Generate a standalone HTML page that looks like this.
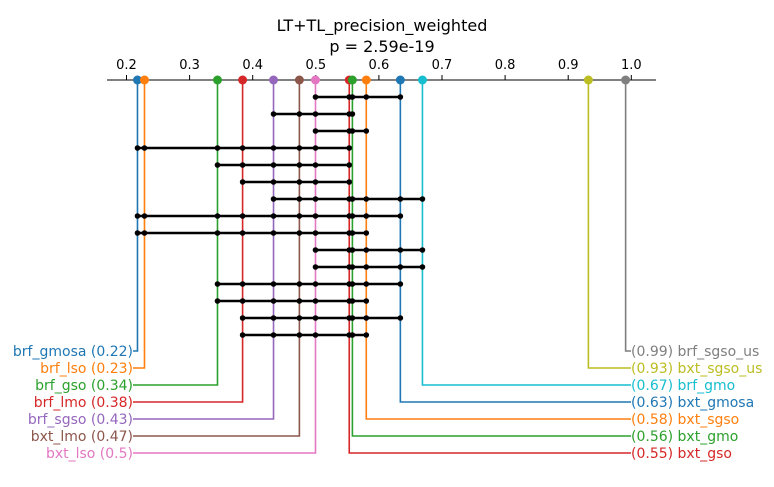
<!DOCTYPE html>
<html><head><meta charset="utf-8"><style>
html,body{margin:0;padding:0;background:#fff;}
svg{display:block;font-family:"DejaVu Sans","Liberation Sans",sans-serif;}
</style></head><body>
<svg id="chart" width="774" height="487" viewBox="0 0 774 487" xmlns="http://www.w3.org/2000/svg">
<text x="382" y="31" text-anchor="middle" font-size="16">LT+TL_precision_weighted</text>
<text x="382" y="52" text-anchor="middle" font-size="16">p = 2.59e-19</text>
<line x1="107" y1="80" x2="656" y2="80" stroke="#000" stroke-width="1"/>
<g id="ticks"></g><g id="methods"></g><g id="cliques"></g><g id="markers"></g>
</svg>
<script>
const methodNames = ["brf_gmosa","brf_lso","brf_gso","brf_lmo","brf_sgso","bxt_lmo","bxt_lso","bxt_gso","bxt_gmo","bxt_sgso","bxt_gmosa","brf_gmo","bxt_sgso_us","brf_sgso_us"];
const methodValues = [0.2174,0.2285,0.3442,0.384,0.433,0.474,0.4995,0.553,0.558,0.580,0.634,0.669,0.932,0.991];
const methodLabels = ["0.22","0.23","0.34","0.38","0.43","0.47","0.5","0.55","0.56","0.58","0.63","0.67","0.93","0.99"];
const methodColors = ["#1f77b4","#ff7f0e","#2ca02c","#d62728","#9467bd","#8c564b","#e377c2","#d62728","#2ca02c","#ff7f0e","#1f77b4","#17becf","#bcbd22","#7f7f7f"];
const tickValues = [0.2,0.3,0.4,0.5,0.6,0.7,0.8,0.9,1.0];
const tickLabels = ["0.2","0.3","0.4","0.5","0.6","0.7","0.8","0.9","1.0"];
const cliqueStart = [6,4,6,0,2,3,4,0,0,6,6,2,2,3,3];
const cliqueEnd = [10,8,9,7,7,7,11,10,9,11,11,10,9,10,9];

const NS="http://www.w3.org/2000/svg";
const X = v => 126.5 + (v-0.2)*631;
const axisY = 80;
function mk(tag, attrs, parent){const e=document.createElementNS(NS,tag);for(const k in attrs)e.setAttribute(k,attrs[k]);parent.appendChild(e);return e;}

const tg=document.getElementById('ticks');
tickValues.forEach((v,i)=>{
  const l=mk('line',{x1:X(v),x2:X(v),y1:axisY-5,y2:axisY,stroke:'#000','stroke-width':1},tg);
  
  
  const t=mk('text',{x:X(v),y:69,'text-anchor':'middle','font-size':13},tg);
  t.textContent=tickLabels[i];
  
  
});

const mg=document.getElementById('methods');
const kg=document.getElementById('markers');
const n=methodNames.length, half=7;
methodNames.forEach((name,i)=>{
  const x=X(methodValues[i]), c=methodColors[i];
  let ly, pts, label, anchor, tx;
  if(i<half){ ly=351+17*i; pts=`${x},${axisY} ${x},${ly} 133,${ly}`; label=`${name} (${methodLabels[i]})`; anchor='end'; tx=133; }
  else { ly=351+17*(n-1-i); pts=`${x},${axisY} ${x},${ly} 631,${ly}`; label=`(${methodLabels[i]}) ${name}`; anchor='start'; tx=631; }
  const p=mk('polyline',{points:pts,fill:'none',stroke:c,'stroke-width':1.6},mg);
  
  
  const d=mk('circle',{cx:x,cy:axisY,r:4.5,fill:c},kg);
  
  
  const t=mk('text',{x:tx,y:ly+5,'text-anchor':anchor,'font-size':14,fill:c},mg);
  t.textContent=label;
  
  
});

const cg=document.getElementById('cliques');
cliqueStart.forEach((s,k)=>{
  const e=cliqueEnd[k], y=97+17*k;
  const l=mk('line',{x1:X(methodValues[s]),x2:X(methodValues[e]),y1:y,y2:y,stroke:'#000','stroke-width':2.6},cg);
  
  
  for(let j=s;j<=e;j++){
    const d=mk('circle',{cx:X(methodValues[j]),cy:y,r:2.8,fill:'#000'},cg);
    
    
  }
});
</script>
</body></html>
